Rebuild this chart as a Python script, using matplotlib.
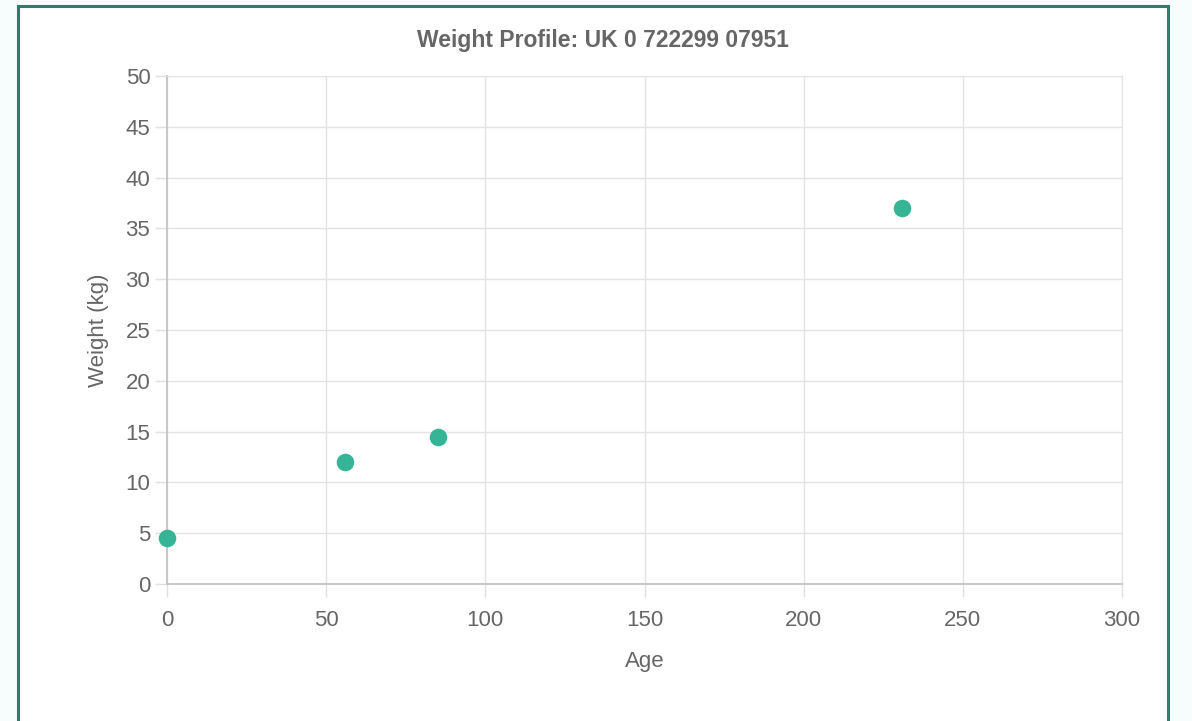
import matplotlib.pyplot as plt
from matplotlib.patches import Rectangle

plt.rcParams['font.family'] = ['Liberation Sans', 'DejaVu Sans']

age = [0, 56, 85, 231]
weight = [4.5, 12.0, 14.5, 37.0]
x_ticks = [0, 50, 100, 150, 200, 250, 300]
y_ticks = [0, 5, 10, 15, 20, 25, 30, 35, 40, 45, 50]

W, H = 1192, 721
fig = plt.figure(figsize=(W / 100, H / 100), dpi=100)
fig.patch.set_facecolor('#f7fdfc')

# teal panel frame (open at the bottom)
fig.patches.append(Rectangle((18 / W, -0.05), (1168 - 18) / W, 1.05 - 6 / H,
                             transform=fig.transFigure, facecolor='white',
                             edgecolor='#2f7c6c', linewidth=2.2, zorder=-5))

ax = fig.add_axes([167 / W, 1 - 584 / H, (1122 - 167) / W, (584 - 76) / H])
ax.set_zorder(2)
ax.scatter(age, weight, s=160, color='#36b596', zorder=3, linewidths=0,
           clip_on=False)

ax.set_xlim(0, 300)
ax.set_ylim(0, 50)
ax.set_xticks(x_ticks)
ax.set_yticks(y_ticks)
ax.grid(True, color='#e3e3e3', linewidth=1)
ax.set_axisbelow(True)
ax.tick_params(colors='#e0e0e0', labelcolor='#666666', labelsize=16,
               length=9, width=1, pad=3)
ax.tick_params(axis='x', pad=10)
for s in ['top', 'right']:
    ax.spines[s].set_color('#e3e3e3')
for s in ['left', 'bottom']:
    ax.spines[s].set_color('#c4c4c4')
    ax.spines[s].set_linewidth(1.3)

ax.set_xlabel('Age', color='#666666', fontsize=16, labelpad=14)
ax.set_ylabel('Weight (kg)', color='#666666', fontsize=16, labelpad=12)
fig.text(603 / W, 1 - 41 / H, 'Weight Profile: UK 0 722299 07951',
         ha='center', va='center', fontsize=16.5, fontweight='bold', color='#666666')

fig.savefig('out.png', dpi=100, facecolor=fig.get_facecolor())
